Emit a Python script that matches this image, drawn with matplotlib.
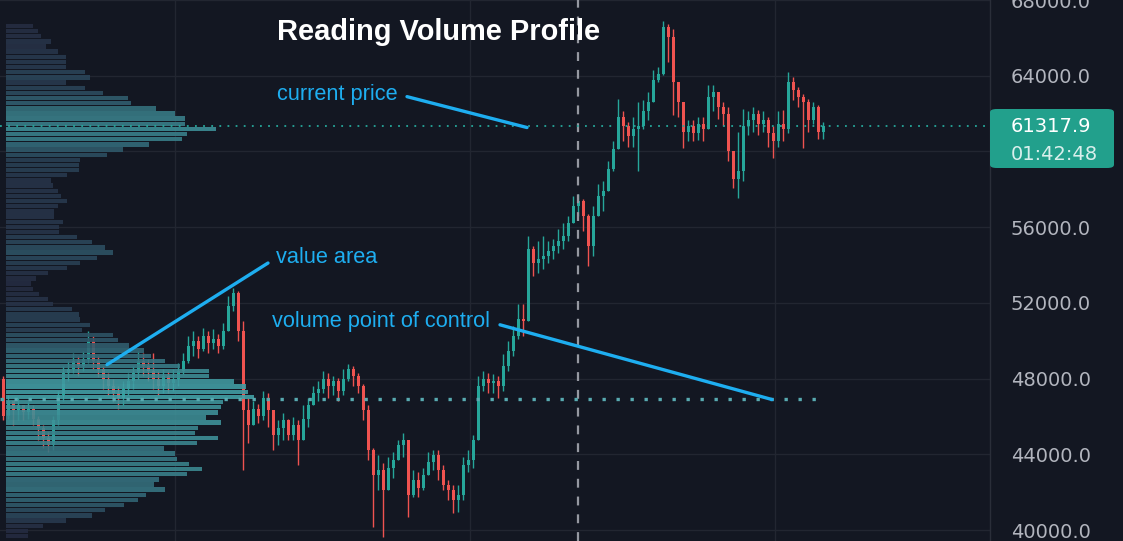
import numpy as np
import matplotlib
matplotlib.use("Agg")
import matplotlib.pyplot as plt
from matplotlib.patches import Rectangle, FancyBboxPatch
from matplotlib.transforms import blended_transform_factory
from matplotlib.colors import LinearSegmentedColormap

# ---------------- data ----------------
first_open = 48000
closes = [46050, 46840, 46320, 46580, 46210, 46420, 45890, 45370, 44840, 44470,
          45790, 47110, 48320, 48530, 48950, 48680, 49050, 50000, 48950, 48530,
          48000, 47630, 47260, 46950, 47470, 47890, 48320, 48950, 48680, 48420,
          48000, 47630, 48160, 47790, 48000, 48420, 48950, 49740, 50000, 49580,
          50260, 49890, 50110, 49740, 50530, 51840, 52530, 50530, 46320, 45530,
          46420, 46050, 46950, 46320, 45000, 45370, 45790, 45000, 45530, 44740,
          45890, 46580, 47260, 47470, 48000, 47630, 47890, 47370, 48000, 48530,
          48160, 47630, 46320, 44210, 42890, 43160, 42110, 43260, 43680, 44470,
          44740, 41840, 42630, 42210, 42890, 43580, 43950, 43160, 42370, 42110,
          41580, 41840, 43420, 43680, 44740, 47630, 48000, 47790, 47890, 47630,
          48680, 49470, 50260, 51160, 51050, 54840, 54110, 54320, 54470, 54740,
          55000, 55260, 55530, 56210, 57110, 57370, 56580, 55000, 56580, 57630,
          57890, 59050, 60110, 61840, 61320, 60790, 61160, 61320, 62110, 62630,
          63790, 64110, 66580, 66050, 63680, 62630, 61050, 61320, 60950, 61470,
          61160, 62890, 63160, 62370, 62000, 60000, 58530, 58950, 61320, 61680,
          62000, 61470, 61680, 60950, 60530, 61470, 61160, 63680, 63260, 62890,
          62630, 61680, 62370, 61050, 61317.9]
highs = [48160, 47110, 46840, 46950, 46630, 46740, 46580, 46050, 45530, 45160,
         46050, 47370, 48680, 48950, 49370, 49210, 49470, 50530, 50260, 49210,
         48680, 48320, 48000, 47630, 47890, 48320, 48680, 49470, 49370, 49050,
         49370, 48420, 48530, 48420, 48530, 48840, 49370, 50260, 50530, 50260,
         50680, 50530, 50630, 50370, 50950, 52370, 52790, 52630, 51050, 46950,
         46840, 46680, 47370, 47260, 45790, 45790, 46160, 45890, 45950, 45790,
         46580, 47000, 47630, 47890, 48420, 48320, 48160, 48050, 48530, 48790,
         48680, 48320, 47740, 46580, 44320, 43950, 43530, 43840, 44110, 44740,
         45110, 44740, 43160, 43050, 43260, 44110, 44210, 44210, 43420, 42630,
         42370, 42370, 43840, 44210, 45000, 48160, 48420, 48320, 48260, 48160,
         49320, 50000, 50790, 51950, 51950, 55530, 55000, 55260, 55530, 55260,
         55370, 55890, 56210, 56580, 57630, 57740, 57470, 56680, 57110, 58260,
         58420, 59470, 60530, 62790, 62110, 61580, 61840, 62630, 62740, 63160,
         64320, 64470, 66890, 66740, 66470, 63680, 62110, 61680, 61680, 61840,
         61840, 63530, 63530, 62890, 62630, 62370, 60000, 61050, 62260, 62110,
         62370, 62210, 62110, 61840, 61320, 62110, 62210, 64210, 63950, 63420,
         63050, 62790, 62630, 62470, 61580]
lows = [45790, 45890, 45530, 45790, 45790, 45890, 45530, 44740, 44320, 44110,
        44210, 45530, 46840, 47890, 48320, 48160, 48420, 48840, 48530, 48110,
        47470, 47110, 46740, 46420, 46580, 47110, 47470, 48000, 48160, 47890,
        47470, 47110, 47260, 47260, 47370, 47630, 48260, 48840, 49210, 49110,
        49470, 49370, 49580, 49370, 49580, 50530, 51580, 50000, 43160, 44580,
        45790, 45680, 45790, 45420, 44210, 44470, 44740, 44740, 44740, 43420,
        44740, 45420, 46680, 46840, 47260, 47000, 47110, 46840, 47110, 47890,
        47630, 47260, 45790, 43680, 40160, 42110, 39630, 42470, 42740, 43680,
        43840, 40680, 41740, 41740, 42110, 42890, 43160, 42630, 42110, 41580,
        40890, 40950, 41580, 43050, 43260, 44740, 47370, 47260, 47260, 47000,
        47370, 48420, 49210, 50110, 50260, 51050, 53420, 53580, 53790, 54110,
        54320, 54630, 54840, 55260, 56210, 56580, 55790, 53950, 54470, 57110,
        56840, 57890, 58950, 60890, 60530, 60260, 60260, 58950, 61160, 61680,
        62890, 63680, 64050, 64740, 61950, 61840, 60160, 60530, 60530, 60630,
        60530, 61320, 62110, 61740, 61320, 59470, 58050, 57530, 58420, 60890,
        61050, 60890, 61050, 60260, 59630, 60260, 60530, 60950, 62740, 62370,
        60160, 61050, 61470, 60680, 60680]

# volume profile, listed from the highest price row to the lowest
profile_top, profile_bottom = 66632, 39684
profile_volume = [27, 32, 35, 45, 40, 52, 60, 60, 60, 79,
                  84, 60, 79, 97, 122, 125, 150, 169, 179, 179,
                  210, 181, 176, 143, 117, 101, 74, 73, 73, 61,
                  45, 47, 52, 55, 61, 52, 48, 48, 57, 53,
                  53, 71, 86, 99, 107, 91, 74, 61, 42, 30,
                  25, 27, 33, 42, 47, 66, 73, 74, 84, 76,
                  107, 112, 123, 138, 145, 159, 174, 203, 203, 228,
                  240, 242, 248, 217, 215, 212, 200, 215, 192, 189,
                  212, 191, 158, 169, 171, 183, 196, 181, 153, 148,
                  159, 140, 132, 118, 99, 86, 60, 37, 22, 22]

current_price = 61317.9
countdown = "01:42:48"
poc_price = 46900
price_ticks = [40000, 44000, 48000, 52000, 56000, 60000, 64000, 68000]
hidden_tick = 60000  # covered by the price label box

# ---------------- style ----------------
BG = "#131722"
GRID = "#222631"
UP = "#26a69a"
DOWN = "#ef5350"
CYAN = "#1eaef0"

W, H = 1123, 541
fig = plt.figure(figsize=(W / 100, H / 100), dpi=100, facecolor=BG)
ax = fig.add_axes([0, 0, 990 / W, 1])
ax.set_facecolor(BG)

# px -> data helpers (layout only)
def xi(px):
    return (px - 3) / 5.0

def yp(py):
    return 40000 + (530 - py) * 4000 / 76.0

ax.set_xlim(xi(0), xi(990))
ax.set_ylim(yp(541), yp(0))

# grid
ax.set_yticks(price_ticks)
ax.set_yticklabels(["" if v == hidden_tick else f"{v:.1f}" for v in price_ticks])
ax.set_xticks([xi(175), xi(470), xi(775)])
ax.set_xticklabels([])
ax.grid(True, color=GRID, lw=1.0, zorder=0)
ax.set_axisbelow(True)
ax.yaxis.tick_right()
ax.tick_params(axis="y", length=0, pad=15, labelsize=14, labelcolor="#b2b5be")
ax.tick_params(axis="x", length=0)
for s in ["top", "left", "bottom"]:
    ax.spines[s].set_visible(False)
ax.spines["right"].set_color("#2a2e39")
ax.spines["right"].set_linewidth(1)

# candles
n = len(closes)
xs = np.arange(n)
opens = [first_open] + closes[:-1]
cols = [UP if c >= o else DOWN for o, c in zip(opens, closes)]
hi = [max(h, o, c) for h, o, c in zip(highs, opens, closes)]
lo = [min(l, o, c) for l, o, c in zip(lows, opens, closes)]
ax.vlines(xs, lo, hi, colors=cols, lw=1.0, zorder=2)
body_bottom = [min(o, c) for o, c in zip(opens, closes)]
body_h = [max(abs(c - o), 40) for o, c in zip(opens, closes)]
ax.bar(xs, body_h, bottom=body_bottom, width=0.6, color=cols, lw=0, zorder=3)

# vertical dashed session line
ax.axvline(xi(578), color="#9598a1", lw=1.6, dashes=(4, 4), zorder=4)

# volume profile (x in axes fraction, y in price)
trans = blended_transform_factory(ax.transAxes, ax.transData)
levels = np.linspace(profile_top, profile_bottom, len(profile_volume))
step = (profile_top - profile_bottom) / (len(profile_volume) - 1)
cmap = LinearSegmentedColormap.from_list(
    "vp", ["#22253b", "#273449", "#2c4d60", "#346e7c", "#3c8991", "#42a0a6"])
vmax = max(profile_volume)
for lvl, v in zip(levels, profile_volume):
    ax.add_patch(Rectangle((6 / 990, lvl - step * 0.42), v / 990, step * 0.84,
                           transform=trans, facecolor=cmap(v / vmax),
                           edgecolor="none", alpha=0.9, zorder=5))

# current price line
ax.axhline(current_price, color=UP, lw=1.3, dashes=(1, 3.5), zorder=6)
# POC line
ax.plot([xi(0), xi(822)], [poc_price, poc_price], color="#58aab0", lw=2.4,
        dashes=(1, 3.2), dash_capstyle="butt", zorder=6)

# annotations
ann_kw = dict(color=CYAN, lw=2.4, solid_capstyle="round", zorder=7)
ax.plot([xi(407), xi(527)], [yp(95), yp(126)], **ann_kw)
ax.plot([xi(107), xi(268)], [yp(364), yp(262)], **ann_kw)
ax.plot([xi(500), xi(772)], [yp(324), yp(399)], **ann_kw)
txt_kw = dict(color=CYAN, fontsize=15.7, family="Liberation Sans", va="center",
              ha="left", zorder=8)
ax.text(xi(277), yp(93), "current price", **txt_kw)
ax.text(xi(276), yp(256), "value area", **txt_kw)
ax.text(xi(272), yp(321), "volume point of control", **txt_kw)

fig.text(439 / W, 1 - 32 / H, "Reading Volume Profile", color="white",
         fontsize=20.9, fontweight="bold", family="Liberation Sans",
         ha="center", va="center")

# price label box
box = FancyBboxPatch((990 / W, 1 - 168 / H), 124 / W, 59 / H,
                     boxstyle="round,pad=0,rounding_size=0.006",
                     transform=fig.transFigure, facecolor="#22a08c",
                     edgecolor="none", zorder=10)
fig.patches.append(box)
fig.text(1011 / W, 1 - 126 / H, f"{current_price:.1f}", color="white",
         fontsize=14, ha="left", va="center", zorder=11)
fig.text(1011 / W, 1 - 154 / H, countdown, color="#d9efec",
         fontsize=14, ha="left", va="center", zorder=11)

fig.savefig("out.png", dpi=100, facecolor=BG)
